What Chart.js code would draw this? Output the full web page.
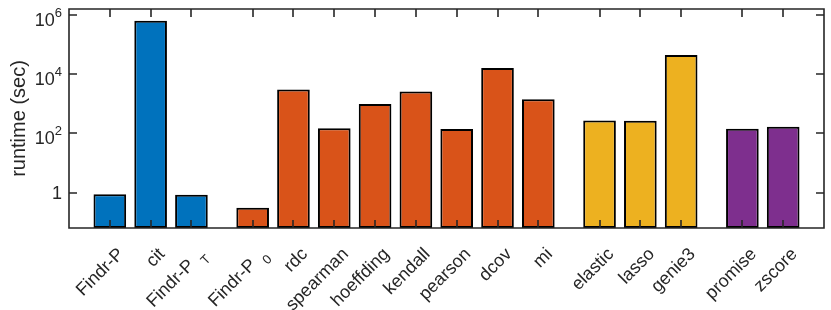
<!DOCTYPE html>
<html>
<head>
<meta charset="utf-8">
<script src="https://cdn.jsdelivr.net/npm/chart.js@4.4.0/dist/chart.umd.min.js"></script>
<style>
  html, body { margin: 0; padding: 0; background: #fff; }
  #wrap { width: 831px; height: 310px; position: relative; }
</style>
</head>
<body>
<div id="wrap"><canvas id="chart"></canvas></div>
<script>
// method names ("_X" marks a subscript), runtimes in seconds, method family
const labels = ["Findr-P", "cit", "Findr-P_T", "Findr-P_0", "rdc", "spearman", "hoeffding",
  "kendall", "pearson", "dcov", "mi", "elastic", "lasso", "genie3", "promise", "zscore"];
const runtimes = [0.88, 630000, 0.85, 0.31, 3000, 148, 970, 2570, 140, 15900, 1400,
  268, 265, 43500, 143, 167];
const groups = [0, 0, 0, 1, 1, 1, 1, 1, 1, 1, 1, 2, 2, 2, 3, 3];
const groupColors = ["#0072BD", "#D95319", "#EDB120", "#7E2F8E"];
const yTicks = [1, 1e2, 1e4, 1e6];
const yLabel = "runtime (sec)";

const FONT = "'Liberation Sans', Arial, Helvetica, sans-serif";
const INK = "#262626";
const groupGap = 0.5;
// bar positions: one slot per method, half a slot extra between families
const positions = labels.map((l, i) => i + 1 + groups[i] * groupGap);

const axesPlugin = {
  id: "matlabAxes",
  afterDraw(chart) {
    const ctx = chart.ctx;
    const { left, right, top, bottom } = chart.chartArea;
    const xs = chart.scales.x, ys = chart.scales.y;
    const tl = 8;
    ctx.save();
    ctx.strokeStyle = INK;
    ctx.lineWidth = 1.6;
    ctx.lineCap = "square";
    // box
    ctx.beginPath();
    ctx.moveTo(left, top); ctx.lineTo(right, top);
    ctx.lineTo(right, bottom); ctx.lineTo(left, bottom);
    ctx.closePath();
    ctx.stroke();
    ctx.lineCap = "butt";
    ctx.beginPath();
    // x ticks, inward at top and bottom
    positions.forEach(v => {
      const px = Math.round(xs.getPixelForValue(v));
      ctx.moveTo(px, bottom); ctx.lineTo(px, bottom - tl);
      ctx.moveTo(px, top); ctx.lineTo(px, top + tl);
    });
    // y ticks, inward at left and right
    yTicks.forEach(v => {
      const py = Math.round(ys.getPixelForValue(v));
      ctx.moveTo(left, py); ctx.lineTo(left + tl, py);
      ctx.moveTo(right, py); ctx.lineTo(right - tl, py);
    });
    ctx.stroke();

    ctx.fillStyle = INK;
    // y tick labels with superscript exponents
    yTicks.forEach(v => {
      const py = ys.getPixelForValue(v);
      const exp = Math.round(Math.log10(v));
      const xr = left - 7;
      ctx.textBaseline = "alphabetic";
      if (exp === 0) {
        ctx.font = "18px " + FONT;
        ctx.textAlign = "right";
        ctx.fillText("1", xr, py + 6);
      } else {
        ctx.font = "13px " + FONT;
        const ew = ctx.measureText(String(exp)).width;
        ctx.textAlign = "left";
        ctx.fillText(String(exp), xr - ew, py + 2);
        ctx.font = "18px " + FONT;
        ctx.textAlign = "right";
        ctx.fillText("10", xr - ew, py + 11);
      }
    });

    // rotated x tick labels, subscripts after "_"
    positions.forEach((v, i) => {
      const px = xs.getPixelForValue(v);
      const [main, sub] = labels[i].split("_");
      ctx.save();
      ctx.translate(px + 15, bottom + 27);
      ctx.rotate(-Math.PI / 4);
      ctx.textBaseline = "alphabetic";
      ctx.textAlign = "right";
      let end = 0;
      if (sub) {
        ctx.font = "13px " + FONT;
        ctx.fillText(sub, 0, 7);
        end = -ctx.measureText(sub).width - 8;
      }
      ctx.font = "18px " + FONT;
      ctx.fillText(main, end, 0);
      ctx.restore();
    });

    // y axis title
    ctx.save();
    ctx.translate(19, (top + bottom) / 2);
    ctx.rotate(-Math.PI / 2);
    ctx.font = "20px " + FONT;
    ctx.textAlign = "center";
    ctx.textBaseline = "middle";
    ctx.fillText(yLabel, 0, 0);
    ctx.restore();
    ctx.restore();
  }
};

new Chart(document.getElementById("chart"), {
  type: "bar",
  data: {
    datasets: [{
      data: positions.map((x, i) => ({ x: x, y: runtimes[i] })),
      backgroundColor: groups.map(g => groupColors[g]),
      borderColor: "#000",
      borderWidth: 2,
      borderSkipped: false,
      barPercentage: 1,
      categoryPercentage: 0.8
    }]
  },
  options: {
    responsive: true,
    maintainAspectRatio: false,
    animation: false,
    devicePixelRatio: 1,
    layout: { padding: { left: 69, right: 7, top: 9, bottom: 82 } },
    plugins: { legend: { display: false }, tooltip: { enabled: false } },
    scales: {
      x: {
        type: "linear", min: 0, max: 18.5, offset: false, display: false,
        afterBuildTicks: s => { s.ticks = positions.map(v => ({ value: v })); }
      },
      y: { type: "logarithmic", min: 0.064, max: 1.56e6, display: false }
    }
  },
  plugins: [axesPlugin]
});
</script>
</body>
</html>
